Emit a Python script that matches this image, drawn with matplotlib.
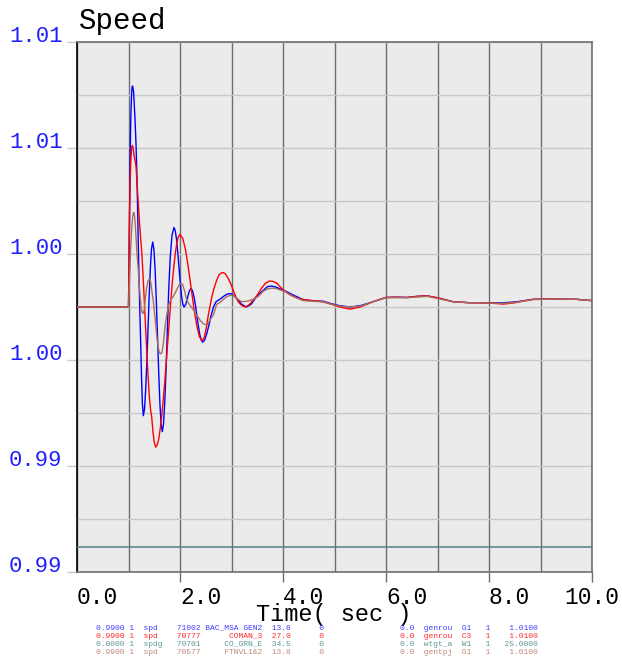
import matplotlib
matplotlib.use('Agg')
import matplotlib.pyplot as plt
from matplotlib.ticker import FormatStrFormatter, MultipleLocator
import numpy as np

# channel traces (time in sec, speed in pu)
t_bac = [0, 1.00, 1.01, 1.02, 1.03, 1.045, 1.06, 1.07, 1.08, 1.10, 1.126, 1.145, 1.16, 1.175,
         1.19, 1.205, 1.22, 1.24, 1.255, 1.27, 1.288, 1.311, 1.333, 1.356, 1.379, 1.402,
         1.425, 1.447, 1.47, 1.493, 1.517, 1.54, 1.564, 1.587, 1.61, 1.634, 1.657, 1.68,
         1.705, 1.73, 1.755, 1.78, 1.81, 1.845, 1.883, 1.907, 1.932, 1.956, 1.98, 2.005,
         2.029, 2.054, 2.078, 2.112, 2.146, 2.18, 2.214, 2.242, 2.27, 2.299, 2.327, 2.355,
         2.383, 2.412, 2.44, 2.48, 2.52, 2.56, 2.60, 2.65, 2.70, 2.78, 2.86, 2.93, 3.0,
         3.06, 3.13, 3.2, 3.29, 3.38, 3.49, 3.6, 3.7, 3.77, 3.85, 3.95, 4.07, 4.2, 4.39,
         4.6, 4.78, 4.95, 5.1, 5.3, 5.5, 5.75, 6.0, 6.2, 6.4, 6.6, 6.8, 7.05, 7.3, 7.63,
         8.02, 8.28, 8.55, 8.86, 9.3, 9.7, 10.0]
spd_bac = [1.0000, 1.0000, 1.0015, 1.0035, 1.0055, 1.0072, 1.0080, 1.0083, 1.00834, 1.0081,
           1.0071, 1.0062, 1.0052, 1.0039, 1.0024, 1.0010, 0.99985, 0.9984, 0.9972, 0.99635,
           0.9959, 0.99615, 0.99686, 0.99792, 0.99918, 1.00044, 1.0015, 1.0022, 1.00245,
           1.00218, 1.00140, 1.00024, 0.99888, 0.99751, 0.99635, 0.99557, 0.9953, 0.99559,
           0.99643, 0.99768, 0.99915, 1.00062, 1.00187, 1.00271, 1.0030, 1.00289, 1.00256,
           1.00207, 1.0015, 1.00093, 1.00044, 1.00011, 1.0000, 1.0001, 1.00035, 1.0006,
           1.0007, 1.00062, 1.0004, 1.00008, 0.999685, 0.9993, 0.99897, 0.99875, 0.99867,
           0.99876, 0.9990, 0.9993, 0.99965, 1.0000, 1.0002, 1.0003, 1.00042, 1.0005,
           1.0005, 1.0004, 1.00026, 1.0001, 1.0000, 1.0001, 1.0004, 1.0006, 1.00077,
           1.00079, 1.00076, 1.00068, 1.00058, 1.00045, 1.00028, 1.00023, 1.00022, 1.00012,
           1.00005, 1.0000, 1.00005, 1.0002, 1.00036, 1.00037, 1.00036, 1.0004, 1.00042,
           1.00032, 1.0002, 1.00016, 1.00016, 1.00016, 1.0002, 1.00029, 1.0003, 1.00029,
           1.00024]

t_coman = [0, 1.00, 1.01, 1.02, 1.03, 1.045, 1.06, 1.075, 1.09, 1.11, 1.13, 1.146, 1.165,
           1.19, 1.22, 1.256, 1.28, 1.305, 1.33, 1.353, 1.38, 1.405, 1.43, 1.45, 1.475, 1.50,
           1.528, 1.557, 1.587, 1.616, 1.646, 1.675, 1.705, 1.734, 1.764, 1.793, 1.823,
           1.852, 1.882, 1.911, 1.941, 1.97, 2.0, 2.054, 2.108, 2.161, 2.215, 2.269, 2.323,
           2.376, 2.43, 2.47, 2.51, 2.55, 2.58, 2.62, 2.66, 2.71, 2.76, 2.80, 2.84, 2.88,
           2.93, 2.98, 3.03, 3.08, 3.13, 3.20, 3.28, 3.35, 3.42, 3.50, 3.58, 3.66, 3.74,
           3.80, 3.88, 3.95, 4.02, 4.10, 4.2, 4.3, 4.45, 4.65, 4.8, 4.95, 5.1, 5.3, 5.5,
           5.75, 6.0, 6.2, 6.4, 6.6, 6.8, 7.0, 7.3, 7.63, 8.0, 8.28, 8.5, 8.7, 8.86, 9.3,
           9.7, 10.0]
spd_coman = [1.0000, 1.0000, 1.0018, 1.0035, 1.0046, 1.0055, 1.0060, 1.0061, 1.0060, 1.0057,
             1.0055, 1.0053, 1.0047, 1.0039, 1.0030, 1.0021, 1.0013, 1.0003, 0.9993, 0.99838,
             0.9974, 0.9966, 0.9961, 0.99586, 0.9953, 0.9949, 0.99471, 0.99479, 0.99501,
             0.99541, 0.99589, 0.99650, 0.99719, 0.99794, 0.99873, 0.99950, 1.00026, 1.00095,
             1.00156, 1.00206, 1.00244, 1.00266, 1.00274, 1.00259, 1.00215, 1.0015, 1.000735,
             0.99997, 0.99932, 0.99888, 0.99873, 0.99885, 0.9992, 0.9997, 1.0000, 1.0004,
             1.0007, 1.0010, 1.00122, 1.00128, 1.0013, 1.00125, 1.0011, 1.0009, 1.00065,
             1.0004, 1.0002, 1.00005, 1.0000, 1.0001, 1.00025, 1.00045, 1.0007, 1.0009,
             1.00098, 1.00097, 1.0009, 1.00075, 1.00062, 1.0005, 1.0004, 1.00032, 1.00026,
             1.00023, 1.00018, 1.0001, 1.0000, 0.99992, 1.0000, 1.0002, 1.00036, 1.00037,
             1.00036, 1.0004, 1.00042, 1.00035, 1.0002, 1.00016, 1.00015, 1.00011, 1.00016,
             1.00024, 1.00029, 1.0003, 1.00029, 1.00024]

t_ftnvl = [0, 1.00, 1.02, 1.04, 1.06, 1.08, 1.095, 1.107, 1.12, 1.135, 1.146, 1.165, 1.19,
           1.21, 1.23, 1.25, 1.27, 1.288, 1.305, 1.325, 1.35, 1.38, 1.40, 1.417, 1.435, 1.46,
           1.48, 1.50, 1.525, 1.55, 1.575, 1.60, 1.625, 1.65, 1.675, 1.71, 1.75, 1.79, 1.83,
           1.87, 1.91, 1.95, 1.99, 2.02, 2.05, 2.09, 2.13, 2.18, 2.22, 2.26, 2.32, 2.39, 2.45,
           2.52, 2.58, 2.65, 2.71, 2.78, 2.85, 2.92, 3.0, 3.06, 3.12, 3.18, 3.23, 3.3, 3.42,
           3.52, 3.62, 3.70, 3.78, 3.86, 3.95, 4.07, 4.2, 4.39, 4.6, 4.78, 4.95, 5.1, 5.3,
           5.5, 5.75, 6.0, 6.4, 6.8, 7.05, 7.3, 7.63, 8.02, 8.28, 8.55, 8.86, 9.3, 9.7, 10.0]
spd_ftnvl = [1.0000, 1.0000, 1.0010, 1.0021, 1.0029, 1.0034, 1.00355, 1.00357, 1.0034,
             1.0030, 1.00265, 1.0020, 1.0014, 1.0008, 1.0003, 0.9999, 0.99978, 0.99976,
             0.9999, 1.0003, 1.0007, 1.0010, 1.00104, 1.00104, 1.0009, 1.0005, 1.00026,
             0.9999, 0.9994, 0.99888, 0.9985, 0.99828, 0.99823, 0.9983, 0.9986, 0.99926,
             0.9998, 1.00014, 1.0003, 1.0004, 1.00055, 1.0007, 1.00085, 1.0009, 1.00085,
             1.0006, 1.00026, 1.0001, 1.0000, 0.99989, 0.9997, 0.9995, 0.99937, 0.99932,
             0.9995, 0.9997, 1.0001, 1.00018, 1.0003, 1.0004, 1.00045, 1.0004, 1.0003,
             1.00022, 1.0002, 1.00022, 1.00029, 1.0004, 1.0006, 1.00068, 1.00071, 1.0007,
             1.00064, 1.00055, 1.0004, 1.00024, 1.00021, 1.0002, 1.0001, 1.00003, 1.0000,
             1.00003, 1.0002, 1.00035, 1.00035, 1.0004, 1.0003, 1.0002, 1.00016, 1.00015,
             1.00014, 1.00018, 1.00028, 1.0003, 1.00029, 1.00024]

# wind unit speed deviation, plotted on its own 0..25 scale
t_wtg = [0, 10.0]
spdg_wtg = [1.2, 1.2]

# channel table printed under the plot
chan_lo = ['0.9900', '0.9900', '0.0000', '0.9900']
chan_var = ['spd', 'spd', 'spdg', 'spd']
chan_bus = ['71002', '70777', '70701', '70577']
chan_name = ['BAC_MSA GEN2', 'COMAN_3', 'CO_GRN_E', 'FTNVL1&2']
chan_kv = ['13.8', '27.0', '34.5', '13.8']
chan_model = ['genrou', 'genrou', 'wtgt_a', 'gentpj']
chan_id = ['G1', 'C3', 'W1', 'G1']
chan_hi = ['1.0100', '1.0100', '25.0000', '1.0100']
chan_colors = ['#4040ff', '#ff2a2a', '#5f9595', '#c0887a']

mono = 'Liberation Mono'

fig = plt.figure(figsize=(6.22, 6.60), dpi=100)
ax = fig.add_axes([77 / 622, 1 - 572 / 660, 515 / 622, 530 / 660])
ax.set_facecolor('#ebebeb')

ax2 = ax.twinx()
ax2.set_ylim(0, 25)
ax2.plot(t_wtg, spdg_wtg, color='#4f8282', lw=1.1)
ax2.set_yticks([])
for s in ax2.spines.values():
    s.set_visible(False)

ax.set_zorder(ax2.get_zorder() - 1)
ax2.patch.set_visible(False)

ax.plot(t_bac, spd_bac, color='#0000ff', lw=1.0, zorder=3)
ax.plot(t_coman, spd_coman, color='#ff0000', lw=1.0, zorder=3)
ax.plot(t_ftnvl, spd_ftnvl, color='#a8705c', lw=1.0, zorder=3)

ax.set_xlim(0, 10)
ax.set_ylim(0.990, 1.010)

ax.set_xticks(np.arange(0, 11, 2))
ax.xaxis.set_minor_locator(MultipleLocator(1))
ax.xaxis.set_major_formatter(FormatStrFormatter('%.1f'))
ax.set_yticks(np.linspace(0.990, 1.010, 6))
ax.yaxis.set_minor_locator(MultipleLocator(0.002))
ax.yaxis.set_major_formatter(FormatStrFormatter('%.2f'))

ax.grid(True, axis='x', which='both', color='#6e6e6e', lw=1.0)
ax.grid(True, axis='y', which='both', color='#c8c8c8', lw=1.0)
ax.set_axisbelow(True)

ax.tick_params(axis='x', which='major', direction='out', length=7.5, width=1.0,
               color='#6e6e6e', pad=2.5, labelsize=16.5, labelcolor='black')
ax.tick_params(axis='x', which='minor', length=0)
ax.tick_params(axis='y', which='major', direction='out', length=7.5, width=1.0,
               color='#c8c8c8', pad=3, labelsize=16, labelcolor='#2020ff')
ax.tick_params(axis='y', which='minor', length=0)

xticks = ax.xaxis.get_major_ticks()
for tk in xticks:
    tk.label1.set_family(mono)
    tk.label1.set_horizontalalignment('left')
xticks[-1].label1.set_horizontalalignment('center')
xticks[0].tick1line.set_visible(False)
for tk in ax.yaxis.get_major_ticks():
    tk.label1.set_family(mono)
    tk.label1.set_verticalalignment('baseline')

for name, s in ax.spines.items():
    s.set_color('#707070')
    s.set_linewidth(1.2)
ax.spines['left'].set_color('black')

fig.text(79 / 622, 1 - 29 / 660, 'Speed', family=mono, fontsize=21, va='baseline')
fig.text(334 / 622, 1 - 621 / 660, 'Time( sec )', family=mono, fontsize=17,
         ha='center', va='baseline')

rows = zip(chan_lo, chan_var, chan_bus, chan_name, chan_kv, chan_model, chan_id,
           chan_hi, chan_colors)
for i, (lo, var, bus, name, kv, model, gid, hi, col) in enumerate(rows):
    line = (f"{lo:6s} 1  {var:<7s}{bus:5s} {name:>12s}  {kv:4s}      0"
            f"{'':16s}0.0  {model:<8s}{gid:<5s}1   {hi:>7s}")
    fig.text(96 / 622, 1 - (628 + 8 * i) / 660, line, family=mono, fontsize=5.75,
             color=col, va='center')

fig.savefig('out.png', dpi=100)
